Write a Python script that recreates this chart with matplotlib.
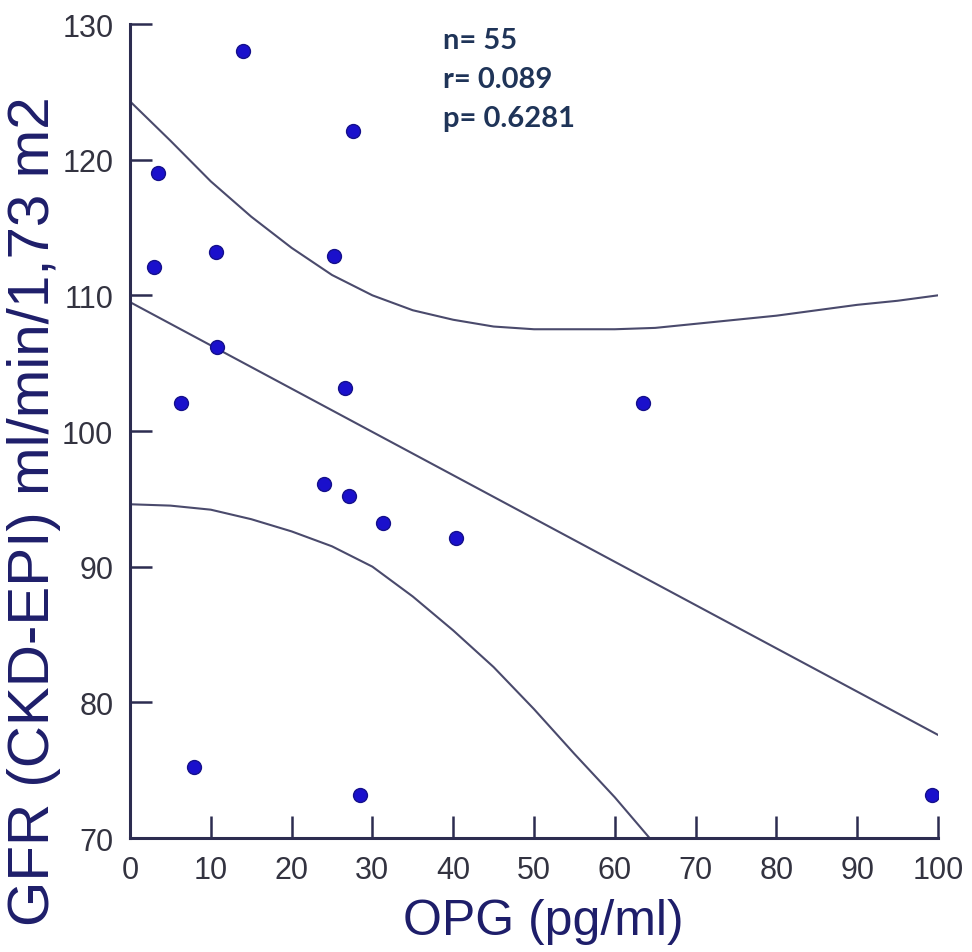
import matplotlib
matplotlib.use('Agg')
import matplotlib.pyplot as plt

# data
opg = [14.0, 27.6, 3.5, 3.0, 10.6, 25.2, 10.8, 6.3, 26.6, 63.5,
       24.0, 27.1, 31.3, 40.3, 7.9, 28.5, 99.3]
gfr = [128.0, 122.1, 119.0, 112.1, 113.2, 112.9, 106.2, 102.1, 103.2, 102.1,
       96.1, 95.2, 93.2, 92.1, 75.2, 73.2, 73.2]

fit_x = [0, 100]
fit_y = [109.5, 77.6]

upper_x = [0, 5, 10, 15, 20, 25, 30, 35, 40, 45, 50, 55, 60, 65, 70,
           75, 80, 85, 90, 95, 100]
upper_y = [124.3, 121.4, 118.4, 115.8, 113.5, 111.5, 110.0, 108.9, 108.2, 107.7,
           107.5, 107.5, 107.5, 107.6, 107.9, 108.2, 108.5, 108.9, 109.3, 109.6, 110.0]

lower_x = [0, 5, 10, 15, 20, 25, 30, 35, 40, 45, 50, 55, 60, 64.3]
lower_y = [94.6, 94.5, 94.2, 93.5, 92.6, 91.5, 90.0, 87.8, 85.3, 82.6,
           79.5, 76.2, 73.0, 70.0]

stats = ['n= 55', 'r= 0.089', 'p= 0.6281']

x_ticks = list(range(0, 101, 10))
y_ticks = list(range(70, 131, 10))

line_col = '#4a4a6c'
axis_col = '#2c2c50'
label_col = '#1e1e6a'

fig = plt.figure(figsize=(9.72, 9.53), dpi=100)
ax = fig.add_axes([130/972, 1-839/953, 808/972, 814/953])

ax.plot(fit_x, fit_y, color=line_col, lw=1.5)
ax.plot(upper_x, upper_y, color=line_col, lw=1.5)
ax.plot(lower_x, lower_y, color=line_col, lw=1.5)
ax.plot(opg, gfr, 'o', color='#1a10cc', mec='#15108c', mew=1, ms=10, zorder=3)

ax.set_xlim(0, 100)
ax.set_ylim(70, 130)
ax.set_xticks(x_ticks)
ax.set_yticks(y_ticks)

for s in ['top', 'right']:
    ax.spines[s].set_visible(False)
for s in ['left', 'bottom']:
    ax.spines[s].set_color(axis_col)
    ax.spines[s].set_linewidth(2.2)

ax.tick_params(direction='in', length=16, width=1.8, color=axis_col,
               labelsize=22, labelcolor='#333340')
ax.tick_params(axis='x', pad=12)
ax.tick_params(axis='y', pad=12)
for lab in ax.get_xticklabels() + ax.get_yticklabels():
    lab.set_family(['Liberation Sans', 'DejaVu Sans'])

ax.set_xlabel('OPG (pg/ml)', fontsize=36, color=label_col,
              family=['Liberation Sans', 'DejaVu Sans'])
ax.xaxis.set_label_coords(0.512, -0.074)
ax.set_ylabel('GFR (CKD-EPI) ml/min/1,73 m2', fontsize=42, color=label_col,
              family=['Liberation Sans', 'DejaVu Sans'])
ax.yaxis.set_label_coords(-0.086, 0.403)

for i, t in enumerate(stats):
    fig.text(443/972, 1-(49 + 39*i)/953, t, fontsize=21, fontweight='bold',
             color='#1f3458', family=['Lato', 'DejaVu Sans'], va='baseline')

fig.savefig('out.png', dpi=100)
